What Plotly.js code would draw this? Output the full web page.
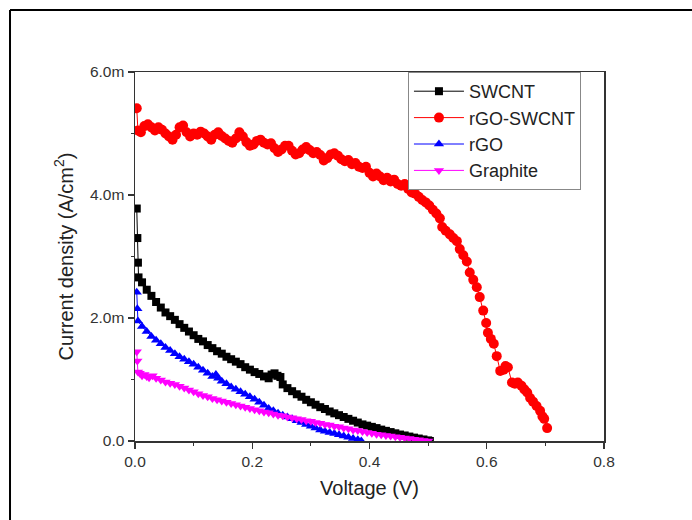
<!DOCTYPE html>
<html>
<head>
<meta charset="utf-8">
<script src="https://cdn.plot.ly/plotly-3.0.1.min.js"></script>
<style>html,body{margin:0;padding:0;background:#fff;}#chart{width:692px;height:520px;}</style>
</head>
<body>
<div id="chart"></div>
<script>
// Voltage (V) and current density (mA/cm^2)
var swcntV = [0.003,0.004,0.005,0.006,0.012,0.02,0.028,0.036,0.044,0.052,
  0.06,0.068,0.076,0.084,0.092,0.1,0.108,0.116,0.124,0.132,
  0.14,0.148,0.156,0.164,0.172,0.18,0.188,0.196,0.204,0.212,
  0.22,0.228,0.233,0.238,0.243,0.248,0.252,0.26,0.268,0.276,
  0.284,0.292,0.3,0.308,0.316,0.324,0.332,0.34,0.348,0.356,
  0.364,0.372,0.38,0.388,0.396,0.404,0.412,0.42,0.428,0.436,
  0.444,0.452,0.46,0.468,0.476,0.484,0.492,0.5,0.503];
var swcntJ = [3.78,3.3,2.9,2.66,2.58,2.46,2.36,2.26,2.17,2.09,
  2.03,1.97,1.90,1.84,1.78,1.72,1.66,1.62,1.56,1.51,
  1.46,1.42,1.37,1.33,1.29,1.25,1.2,1.16,1.12,1.09,
  1.05,1.02,1.08,1.1,1.06,1.04,0.92,0.86,0.81,0.76,
  0.72,0.67,0.63,0.59,0.55,0.52,0.48,0.45,0.42,0.39,
  0.36,0.33,0.30,0.27,0.25,0.23,0.21,0.185,0.165,0.145,
  0.125,0.105,0.09,0.072,0.055,0.04,0.025,0.01,0.0];

var rgoSwcntV = [0.003,0.005,0.01,0.016,0.022,0.028,0.034,0.04,0.046,0.052,
  0.058,0.064,0.07,0.076,0.082,0.088,0.094,0.1,0.106,0.112,
  0.118,0.124,0.13,0.136,0.142,0.148,0.154,0.16,0.166,0.172,
  0.178,0.184,0.19,0.196,0.202,0.208,0.214,0.22,0.226,0.232,
  0.238,0.244,0.25,0.256,0.262,0.268,0.274,0.28,0.286,0.292,
  0.298,0.304,0.31,0.316,0.322,0.328,0.334,0.34,0.346,0.352,
  0.358,0.364,0.37,0.376,0.382,0.388,0.394,0.4,0.406,0.412,
  0.418,0.424,0.43,0.436,0.442,0.448,0.454,0.46,0.466,0.472,
  0.478,0.484,0.49,0.496,0.502,0.508,0.514,0.52,0.524,0.53,
  0.537,0.543,0.549,0.554,0.56,0.566,0.571,0.577,0.583,0.588,
  0.594,0.599,0.602,0.607,0.612,0.617,0.623,0.629,0.632,0.636,
  0.643,0.648,0.653,0.659,0.664,0.669,0.674,0.679,0.685,0.691,
  0.695,0.698,0.703];
var rgoSwcntJ = [5.41,5.05,5.02,5.12,5.15,5.10,5.05,5.1,5.06,5.0,
  4.95,4.9,4.98,5.1,5.13,5.02,4.95,5.0,4.98,5.03,
  5.0,4.95,4.9,4.98,5.02,4.96,4.92,4.88,4.85,4.92,
  5.02,4.95,4.86,4.8,4.82,4.88,4.9,4.85,4.82,4.84,
  4.76,4.70,4.74,4.8,4.8,4.72,4.66,4.68,4.74,4.78,
  4.73,4.68,4.7,4.65,4.56,4.6,4.66,4.68,4.64,4.58,
  4.55,4.57,4.5,4.52,4.46,4.44,4.46,4.36,4.3,4.35,
  4.3,4.24,4.28,4.22,4.25,4.18,4.15,4.18,4.1,4.04,
  4.02,3.97,3.92,3.88,3.83,3.76,3.70,3.62,3.48,3.42,
  3.36,3.30,3.25,3.12,3.02,2.92,2.74,2.62,2.50,2.34,
  2.12,1.92,1.76,1.66,1.58,1.38,1.14,1.16,1.22,1.20,
  0.95,0.93,0.95,0.90,0.84,0.79,0.70,0.64,0.57,0.49,
  0.40,0.36,0.21];

var rgoV = [0.003,0.004,0.005,0.012,0.02,0.028,0.036,0.044,0.052,0.06,
  0.068,0.076,0.084,0.092,0.1,0.108,0.116,0.124,0.132,0.138,
  0.142,0.148,0.156,0.164,0.172,0.18,0.188,0.196,0.204,0.212,
  0.22,0.228,0.236,0.244,0.252,0.26,0.268,0.276,0.284,0.292,
  0.3,0.308,0.316,0.324,0.332,0.34,0.348,0.356,0.364,0.372,
  0.38,0.386];
var rgoJ = [2.42,2.15,1.95,1.86,1.78,1.70,1.64,1.58,1.52,1.47,
  1.42,1.37,1.33,1.29,1.25,1.2,1.15,1.1,1.05,1.08,
  1.02,0.97,0.93,0.88,0.84,0.8,0.76,0.72,0.68,0.63,
  0.58,0.53,0.49,0.45,0.42,0.39,0.36,0.33,0.30,0.27,
  0.24,0.21,0.18,0.16,0.14,0.12,0.1,0.08,0.06,0.04,
  0.02,0.0];

var graphiteV = [0.003,0.004,0.005,0.008,0.012,0.016,0.02,0.024,0.03,0.036,
  0.044,0.052,0.06,0.068,0.076,0.084,0.092,0.1,0.108,0.116,
  0.124,0.132,0.14,0.148,0.156,0.164,0.172,0.18,0.188,0.196,
  0.204,0.212,0.22,0.228,0.236,0.244,0.252,0.26,0.268,0.276,
  0.284,0.292,0.3,0.308,0.316,0.324,0.332,0.34,0.348,0.356,
  0.364,0.372,0.38,0.388,0.396,0.404,0.412,0.42,0.428,0.436,
  0.444,0.452,0.46,0.468,0.476,0.484,0.492,0.5];
var graphiteJ = [1.45,1.3,1.12,1.1,1.06,1.08,1.05,1.03,1.06,1.02,
  0.99,0.96,0.94,0.92,0.89,0.86,0.83,0.8,0.77,0.74,
  0.72,0.69,0.67,0.65,0.63,0.61,0.59,0.57,0.55,0.53,
  0.51,0.49,0.47,0.46,0.44,0.42,0.41,0.39,0.38,0.36,
  0.35,0.33,0.32,0.3,0.29,0.27,0.26,0.24,0.23,0.21,
  0.2,0.18,0.17,0.155,0.14,0.125,0.11,0.1,0.09,0.08,
  0.07,0.06,0.05,0.04,0.03,0.02,0.01,0.0];

var yTickVals = [0, 2, 4, 6];
var yTickText = ['0.0', '2.0m', '4.0m', '6.0m'];
var xTickVals = [0, 0.2, 0.4, 0.6, 0.8];
var xTickText = ['0.0', '0.2', '0.4', '0.6', '0.8'];

var font = 'Liberation Sans, Arial, sans-serif';

function series(name, x, y, color, symbol, size) {
  return {
    type: 'scatter', mode: 'lines+markers', name: name, x: x, y: y,
    line: {color: color, width: 1},
    marker: {color: color, symbol: symbol, size: size, line: {width: 0}},
    cliponaxis: true
  };
}

var data = [
  series('SWCNT', swcntV, swcntJ, '#000000', 'square', 8),
  series('rGO-SWCNT', rgoSwcntV, rgoSwcntJ, '#ff0000', 'circle', 10),
  series('rGO', rgoV, rgoJ, '#0000ff', 'triangle-up', 9),
  series('Graphite', graphiteV, graphiteJ, '#ff00ff', 'triangle-down', 9)
];

var layout = {
  width: 692, height: 520,
  margin: {l: 135, r: 88, t: 72, b: 79},
  paper_bgcolor: '#ffffff', plot_bgcolor: '#ffffff',
  font: {family: font, color: '#222'},
  showlegend: true,
  legend: {
    x: 0.582, y: 1.0, xanchor: 'left', yanchor: 'top',
    bgcolor: '#ffffff', bordercolor: '#888888', borderwidth: 1,
    font: {family: font, size: 18, color: '#222'},
    tracegroupgap: 0, itemwidth: 50
  },
  xaxis: {
    range: [0, 0.8], tickvals: xTickVals, ticktext: xTickText,
    ticks: 'outside', ticklen: 6, tickwidth: 1.2, tickcolor: '#333',
    minor: {dtick: 0.1, ticks: 'outside', ticklen: 3, tickwidth: 1.2, tickcolor: '#333'},
    showline: true, linecolor: '#333', linewidth: 1.5, mirror: true,
    showgrid: false, zeroline: false,
    tickfont: {family: font, size: 15.5, color: '#333'},
    title: {text: 'Voltage (V)', font: {family: font, size: 20, color: '#222'}, standoff: 12}
  },
  yaxis: {
    range: [0, 6], tickvals: yTickVals, ticktext: yTickText,
    ticks: 'outside', ticklen: 6, tickwidth: 1.2, tickcolor: '#333',
    minor: {dtick: 1, ticks: 'outside', ticklen: 3, tickwidth: 1.2, tickcolor: '#333'},
    showline: true, linecolor: '#333', linewidth: 1.5, mirror: true,
    showgrid: false, zeroline: false,
    tickfont: {family: font, size: 15.5, color: '#333'},
    title: {text: 'Current density (A/cm<sup>2</sup>)', font: {family: font, size: 20, color: '#222'}, standoff: 11}
  },
  shapes: [
    {type: 'line', xref: 'paper', yref: 'paper', x0: -0.2665, x1: 1.19, y0: 1.168, y1: 1.168, line: {color: '#000', width: 2}},
    {type: 'line', xref: 'paper', yref: 'paper', x0: -0.2665, x1: -0.2665, y0: 1.168, y1: -0.22, line: {color: '#000', width: 2}}
  ]
};

Plotly.newPlot('chart', data, layout, {displayModeBar: false, staticPlot: true});
</script>
</body>
</html>
